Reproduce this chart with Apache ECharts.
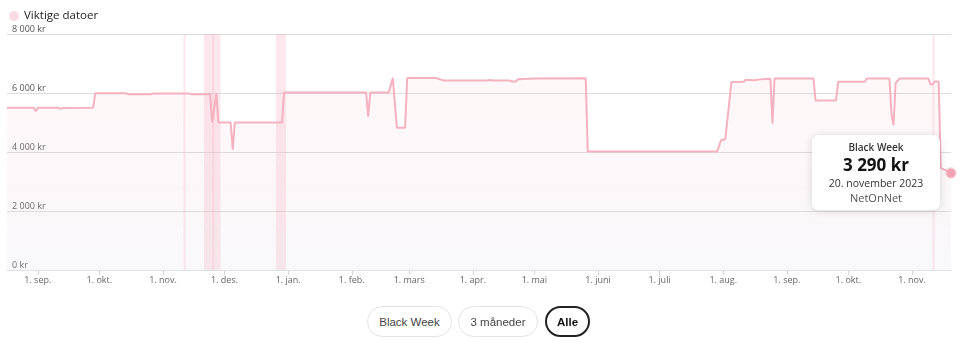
<!DOCTYPE html>
<html><head><meta charset="utf-8">
<script src="https://cdn.jsdelivr.net/npm/echarts@6/dist/echarts.min.js"></script>
<style>
html,body{margin:0;padding:0;background:#fff;}
#chart{position:absolute;left:0;top:0;width:960px;height:358px;}
.btn{position:absolute;top:306px;height:31px;box-sizing:border-box;border:1px solid #e3e3e3;border-radius:16px;background:#fff;font-family:'Liberation Sans',Arial,sans-serif;font-size:11.5px;color:#444;display:flex;align-items:center;justify-content:center;}
.btn.active{border:2px solid #222;color:#111;font-weight:bold;}
</style></head><body>
<div id="chart"></div>
<div class="btn" style="left:367px;width:85px">Black Week</div>
<div class="btn" style="left:458px;width:80px">3 måneder</div>
<div class="btn active" style="left:545px;width:45px">Alle</div>
<script>
const priceDates = ['2022-08-17','2022-08-30','2022-08-31','2022-09-01','2022-09-11','2022-09-12','2022-09-13','2022-09-28','2022-09-29','2022-10-14','2022-10-15','2022-10-26','2022-10-27','2022-11-14','2022-11-15','2022-11-24','2022-11-25','2022-11-27','2022-11-28','2022-12-04','2022-12-05','2022-12-06','2022-12-29','2022-12-30','2023-02-08','2023-02-09','2023-02-10','2023-02-19','2023-02-21','2023-02-23','2023-02-27','2023-02-28','2023-03-14','2023-03-18','2023-04-08','2023-04-09','2023-04-11','2023-04-19','2023-04-20','2023-04-22','2023-04-23','2023-05-01','2023-05-26','2023-05-27','2023-07-29','2023-07-31','2023-08-02','2023-08-05','2023-08-11','2023-08-12','2023-08-16','2023-08-20','2023-08-24','2023-08-25','2023-08-26','2023-09-14','2023-09-15','2023-09-25','2023-09-26','2023-10-09','2023-10-10','2023-10-21','2023-10-22','2023-10-23','2023-10-24','2023-10-26','2023-11-09','2023-11-10','2023-11-11','2023-11-12','2023-11-14','2023-11-15','2023-11-20'];
const priceValues = [5500,5500,5380,5500,5500,5460,5490,5500,5990,5990,5960,5960,5980,5980,5960,5960,5000,5990,5000,5000,4080,5000,5000,6020,6020,5200,6020,6020,6510,4820,4820,6510,6510,6420,6420,6440,6420,6420,6390,6390,6470,6490,6500,4015,4015,4410,4430,6370,6380,6450,6430,6470,6480,4970,6490,6490,5750,5750,6380,6380,6490,6490,5300,4900,6340,6490,6490,6290,6290,6390,6390,3460,3290];

const importantDates = [
  ['2022-11-11','2022-11-12'],
  ['2022-11-21','2022-11-29'],
  ['2022-11-25','2022-11-26'],
  ['2022-12-26','2022-12-31'],
  ['2023-11-11','2023-11-12'],
  ['2023-11-20','2023-11-28']
];

const xTickDates = ['2022-09-01','2022-10-01','2022-11-01','2022-12-01','2023-01-01','2023-02-01','2023-03-01','2023-04-01','2023-05-01','2023-06-01','2023-07-01','2023-08-01','2023-09-01','2023-10-01','2023-11-01'];
const xTickLabels = ['1. sep.','1. okt.','1. nov.','1. des.','1. jan.','1. feb.','1. mars','1. apr.','1. mai','1. juni','1. juli','1. aug.','1. sep.','1. okt.','1. nov.'];
const yTickValues = [0,2000,4000,6000,8000];
const yTickLabels = ['0 kr','2 000 kr','4 000 kr','6 000 kr','8 000 kr'];
const monthNames = ['januar','februar','mars','april','mai','juni','juli','august','september','oktober','november','desember'];
const legendName = 'Viktige datoer';
const tipTitle = 'Black Week';
const tipStore = 'NetOnNet';
const xMin = '2022-08-17';
const xMax = '2023-11-20';

function ts(s){ const p = s.split('-').map(Number); return new Date(p[0], p[1]-1, p[2]).getTime(); }
function fmtKr(v){ return String(Math.round(v)).replace(/\B(?=(\d{3})+(?!\d))/g, ' ') + ' kr'; }

const FONT = "'Open Sans', 'Noto Sans', sans-serif";
const lastIdx = priceValues.length - 1;
const seriesData = priceDates.map(function(d, i){
  const item = { value: [ts(d), priceValues[i]] };
  if (i === lastIdx) {
    item.symbol = 'circle';
    item.symbolSize = 9;
  }
  return item;
});
const tickTs = xTickDates.map(ts);
const tickMap = {};
tickTs.forEach(function(t, i){ tickMap[t] = xTickLabels[i]; });

const chart = echarts.init(document.getElementById('chart'), null, {renderer: 'canvas'});
chart.setOption({
  animation: false,
  textStyle: { fontFamily: FONT },
  legend: {
    data: [{ name: legendName, icon: 'circle' }],
    left: 4, top: 5, itemWidth: 10, itemHeight: 10, itemGap: 10,
    selectedMode: false,
    textStyle: { fontSize: 11.5, color: '#222', fontFamily: FONT }
  },
  grid: { left: 7, right: 9, top: 34, bottom: 88, containLabel: false },
  tooltip: {
    trigger: 'item',
    triggerOn: 'none',
    alwaysShowContent: true,
    transitionDuration: 0,
    backgroundColor: '#fff',
    borderWidth: 0,
    padding: 0,
    extraCssText: 'box-shadow:0 1px 8px rgba(0,0,0,0.14);border-radius:7px;',
    position: function(point, params, dom, rect, size){
      return [point[0] - size.contentSize[0] - 11, point[1] - size.contentSize[1] / 2];
    },
    formatter: function(p){
      const d = new Date(p.value[0]);
      const dateStr = d.getDate() + '. ' + monthNames[d.getMonth()] + ' ' + d.getFullYear();
      return '<div style="width:128px;text-align:center;padding:5px 0 4px;font-family:Open Sans,Noto Sans,sans-serif">' +
        '<div style="font-size:10px;line-height:14px;color:#333;font-weight:600">' + tipTitle + '</div>' +
        '<div style="font-size:17px;line-height:22px;color:#111;font-weight:700">' + fmtKr(p.value[1]) + '</div>' +
        '<div style="font-size:10.5px;line-height:14px;color:#333">' + dateStr + '</div>' +
        '<div style="font-size:11px;line-height:16px;color:#555">' + tipStore + '</div>' +
        '</div>';
    }
  },
  xAxis: {
    type: 'value',
    min: ts(xMin), max: ts(xMax),
    axisLine: { show: true, lineStyle: { color: '#dde2ea', width: 1 } },
    axisTick: { show: true, length: 5, lineStyle: { color: '#d3d8e0' }, customValues: tickTs },
    axisLabel: {
      customValues: tickTs, color: '#666', fontSize: 9, margin: 6, fontFamily: FONT,
      formatter: function(v){ return tickMap[v] !== undefined ? tickMap[v] : ''; }
    },
    splitLine: { show: false }
  },
  yAxis: {
    type: 'value', min: 0, max: 8000, interval: 2000,
    axisLine: { show: false }, axisTick: { show: false },
    splitLine: { lineStyle: { color: '#dcdcdc', width: 1 } },
    axisLabel: {
      inside: true, margin: 5, verticalAlign: 'bottom', padding: [0, 0, 0, 0],
      color: '#555', fontSize: 9, fontFamily: FONT,
      formatter: function(v){ const i = yTickValues.indexOf(v); return i >= 0 ? yTickLabels[i] : ''; }
    }
  },
  series: [
    {
      name: 'Pris',
      type: 'line',
      data: seriesData,
      symbol: 'none',
      showAllSymbol: true,
      clip: false,
      z: 3,
      lineStyle: { color: '#f5b1c0', width: 2 },
      itemStyle: { color: '#f4a2b5', borderColor: 'rgba(244,162,181,0.35)', borderWidth: 3 },
      emphasis: { disabled: true },
      areaStyle: {
        color: {
          type: 'linear', x: 0, y: 0, x2: 0, y2: 1,
          colorStops: [
            { offset: 0, color: 'rgba(247,190,203,0.16)' },
            { offset: 1, color: 'rgba(222,222,230,0.28)' }
          ]
        }
      }
    },
    {
      name: legendName,
      type: 'line',
      data: [],
      z: 2,
      itemStyle: { color: '#fbdce3' },
      lineStyle: { color: '#fbdce3' },
      markArea: {
        silent: true,
        itemStyle: { color: 'rgba(246,176,193,0.30)' },
        data: importantDates.map(function(r){ return [{ xAxis: ts(r[0]) }, { xAxis: ts(r[1]) }]; })
      }
    }
  ]
});
chart.dispatchAction({ type: 'showTip', seriesIndex: 0, dataIndex: lastIdx });
</script>
</body></html>
